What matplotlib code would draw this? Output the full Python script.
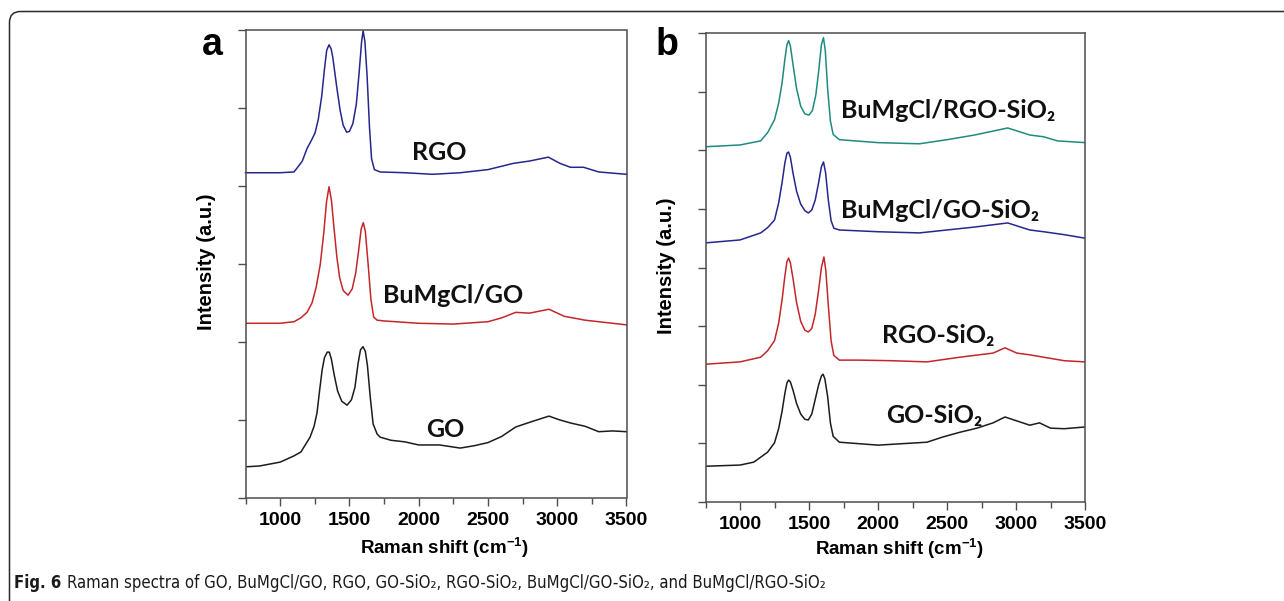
import matplotlib.pyplot as plt
from matplotlib.patches import FancyBboxPatch
from matplotlib.ticker import MultipleLocator, NullFormatter

W, H = 1284, 601

# ---- panel a (intensity in tick units, 0..6) ----
GO_X = [750, 850, 1000, 1100, 1150, 1216, 1245, 1266, 1285, 1303, 1320, 1340, 1355, 1370, 1390,
        1415, 1445, 1483, 1515, 1540, 1563, 1580, 1598, 1615, 1630, 1650, 1671, 1700, 1722, 1800,
        1900, 2000, 2150, 2300, 2400, 2500, 2600, 2700, 2800, 2940, 3020, 3100, 3200, 3300, 3400,
        3500]
GO_Y = [0.40, 0.41, 0.46, 0.54, 0.59, 0.78, 0.92, 1.09, 1.38, 1.64, 1.80, 1.87, 1.87, 1.78, 1.58,
        1.37, 1.24, 1.19, 1.26, 1.42, 1.73, 1.90, 1.94, 1.88, 1.70, 1.30, 0.95, 0.82, 0.78, 0.74,
        0.72, 0.68, 0.68, 0.64, 0.67, 0.71, 0.79, 0.91, 0.97, 1.05, 1.00, 0.96, 0.92, 0.85, 0.86,
        0.85]

BUGO_X = [750, 1000, 1100, 1150, 1194, 1230, 1260, 1290, 1315, 1335, 1353, 1370, 1390, 1410, 1430,
          1455, 1490, 1520, 1545, 1565, 1585, 1600, 1615, 1635, 1655, 1675, 1700, 1750, 2000, 2250,
          2500, 2600, 2700, 2800, 2940, 3050, 3200, 3350, 3500]
BUGO_Y = [2.24, 2.24, 2.26, 2.31, 2.38, 2.50, 2.70, 3.00, 3.40, 3.80, 3.99, 3.82, 3.44, 3.08, 2.82,
          2.66, 2.60, 2.68, 2.88, 3.15, 3.45, 3.53, 3.42, 3.00, 2.55, 2.32, 2.28, 2.27, 2.24, 2.23,
          2.26, 2.31, 2.38, 2.37, 2.42, 2.33, 2.28, 2.25, 2.22]

RGO_X = [750, 900, 1000, 1100, 1122, 1160, 1194, 1230, 1252, 1275, 1300, 1320, 1336, 1353, 1368,
         1380, 1410, 1433, 1455, 1480, 1500, 1525, 1550, 1570, 1588, 1599, 1612, 1628, 1645, 1660,
         1680, 1722, 1900, 2100, 2300, 2500, 2683, 2800, 2936, 3020, 3095, 3190, 3300, 3500]
RGO_Y = [4.17, 4.17, 4.17, 4.18, 4.23, 4.32, 4.48, 4.60, 4.68, 4.85, 5.15, 5.50, 5.74, 5.81, 5.76,
         5.65, 5.25, 4.97, 4.78, 4.69, 4.70, 4.80, 5.05, 5.45, 5.85, 5.99, 5.85, 5.40, 4.75, 4.35,
         4.21, 4.18, 4.17, 4.15, 4.17, 4.21, 4.29, 4.32, 4.37, 4.29, 4.24, 4.24, 4.18, 4.15]

# ---- panel b (intensity in tick units, 0..8) ----
GOSI_X = [750, 1000, 1100, 1200, 1250, 1280, 1305, 1325, 1340, 1352, 1365, 1385, 1410, 1440, 1470,
          1495, 1520, 1545, 1570, 1590, 1602, 1615, 1635, 1655, 1675, 1720, 2000, 2355, 2471, 2594,
          2717, 2834, 2920, 3100, 3170, 3250, 3350, 3500]
GOSI_Y = [0.61, 0.63, 0.68, 0.85, 1.01, 1.25, 1.55, 1.85, 2.03, 2.08, 2.05, 1.90, 1.68, 1.50, 1.41,
          1.40, 1.50, 1.75, 2.00, 2.15, 2.18, 2.10, 1.80, 1.35, 1.12, 1.02, 0.97, 1.02, 1.11, 1.19,
          1.26, 1.35, 1.45, 1.31, 1.35, 1.26, 1.25, 1.28]

RGOSI_X = [750, 1000, 1150, 1200, 1250, 1280, 1305, 1325, 1340, 1352, 1365, 1385, 1410, 1440, 1470,
           1495, 1520, 1545, 1570, 1590, 1608, 1622, 1640, 1660, 1680, 1720, 1870, 2100, 2355, 2594,
           2834, 2920, 3006, 3100, 3200, 3350, 3500]
RGOSI_Y = [2.35, 2.39, 2.47, 2.58, 2.75, 3.05, 3.45, 3.85, 4.10, 4.16, 4.08, 3.80, 3.40, 3.08, 2.93,
           2.90, 2.96, 3.20, 3.62, 4.00, 4.18, 3.95, 3.35, 2.75, 2.50, 2.42, 2.42, 2.41, 2.39, 2.47,
           2.54, 2.63, 2.54, 2.51, 2.47, 2.41, 2.39]

BUGOSI_X = [750, 1000, 1150, 1200, 1250, 1280, 1305, 1325, 1340, 1352, 1365, 1385, 1410, 1440, 1470,
            1495, 1520, 1545, 1570, 1590, 1605, 1620, 1640, 1660, 1680, 1720, 2000, 2300, 2500, 2700,
            2940, 3100, 3200, 3350, 3500]
BUGOSI_Y = [4.42, 4.47, 4.59, 4.68, 4.81, 5.10, 5.45, 5.78, 5.95, 5.97, 5.88, 5.60, 5.30, 5.08, 4.97,
            4.93, 4.98, 5.15, 5.45, 5.72, 5.80, 5.62, 5.15, 4.80, 4.67, 4.64, 4.61, 4.59, 4.64, 4.69,
            4.76, 4.64, 4.61, 4.56, 4.50]

BURGOSI_X = [750, 1000, 1150, 1200, 1250, 1280, 1305, 1325, 1340, 1352, 1365, 1385, 1410, 1440, 1470,
             1500, 1525, 1550, 1570, 1590, 1605, 1618, 1635, 1655, 1675, 1720, 2000, 2300, 2500, 2700,
             2940, 3100, 3200, 3300, 3500]
BURGOSI_Y = [6.06, 6.09, 6.16, 6.30, 6.52, 6.80, 7.15, 7.55, 7.80, 7.87, 7.78, 7.45, 7.05, 6.75, 6.62,
             6.60, 6.68, 6.95, 7.35, 7.80, 7.92, 7.70, 7.05, 6.50, 6.27, 6.18, 6.13, 6.11, 6.18, 6.26,
             6.38, 6.26, 6.23, 6.16, 6.13]

COLORS = {"black": "#1c1c1c", "red": "#c4262b", "navy": "#26268c", "teal": "#1e8b7e"}
AXIS_GREY = "#4d4d4d"
LABEL_FONT = ["Lato", "DejaVu Sans"]

plt.rcParams["font.family"] = ["Liberation Sans", "DejaVu Sans"]
plt.rcParams["mathtext.fontset"] = "custom"
plt.rcParams["mathtext.rm"] = "Liberation Sans:bold"
plt.rcParams["mathtext.bf"] = "Liberation Sans:bold"


def px_rect(left, top, right, bottom):
    return [left / W, 1 - bottom / H, (right - left) / W, (bottom - top) / H]


def style_ax(ax, n_y):
    ax.set_xlim(750, 3500)
    ax.set_ylim(0, n_y)
    ax.xaxis.set_major_locator(MultipleLocator(500))
    ax.xaxis.set_minor_locator(MultipleLocator(250))
    ax.yaxis.set_major_locator(MultipleLocator(1))
    ax.yaxis.set_major_formatter(NullFormatter())
    ax.tick_params(axis="x", which="major", direction="out", length=6, width=1.0,
                   color=AXIS_GREY, pad=4, labelsize=14)
    ax.tick_params(axis="x", which="minor", direction="out", length=4, width=1.0, color=AXIS_GREY)
    ax.tick_params(axis="y", direction="out", length=6, width=1.0, color=AXIS_GREY)
    for lab in ax.get_xticklabels():
        lab.set_fontweight("bold")
    for s in ax.spines.values():
        s.set_color(AXIS_GREY)
        s.set_linewidth(1.1)


fig = plt.figure(figsize=(W / 100, H / 100), dpi=100)

ax_a = fig.add_axes(px_rect(245.5, 30, 626.5, 498))
ax_a.plot(GO_X, GO_Y, color=COLORS["black"], lw=1.1)
ax_a.plot(BUGO_X, BUGO_Y, color=COLORS["red"], lw=1.1)
ax_a.plot(RGO_X, RGO_Y, color=COLORS["navy"], lw=1.1, clip_on=False)
style_ax(ax_a, 6)

ax_b = fig.add_axes(px_rect(705.5, 33, 1085, 502))
ax_b.plot(GOSI_X, GOSI_Y, color=COLORS["black"], lw=1.1)
ax_b.plot(RGOSI_X, RGOSI_Y, color=COLORS["red"], lw=1.1)
ax_b.plot(BUGOSI_X, BUGOSI_Y, color=COLORS["navy"], lw=1.1)
ax_b.plot(BURGOSI_X, BURGOSI_Y, color=COLORS["teal"], lw=1.1)
style_ax(ax_b, 8)

# overlay in pixel coordinates for frame and free text
bg = fig.add_axes([0, 0, 1, 1])
bg.set_zorder(5)
bg.set_xlim(0, W)
bg.set_ylim(H, 0)
bg.axis("off")
bg.add_patch(FancyBboxPatch((9.5, 11.5), W + 40, H + 40, boxstyle="round,pad=0,rounding_size=11",
                            fill=False, edgecolor="#2b2b2b", linewidth=1.1))

# series labels (pixel positions, baseline)
for x, y, s in [(439, 160, "RGO"), (453, 303, "BuMgCl/GO"), (445, 437, "GO"),
                (948, 118, "BuMgCl/RGO-SiO₂"), (940, 218, "BuMgCl/GO-SiO₂"),
                (938, 343, "RGO-SiO₂"), (934, 423, "GO-SiO₂")]:
    bg.text(x, y, s, ha="center", va="baseline", fontsize=18, fontweight="bold",
            family=LABEL_FONT, color="#111111")

# panel letters
bg.text(202, 55, "a", fontsize=27, fontweight="bold", va="baseline", ha="left")
bg.text(656, 55, "b", fontsize=27, fontweight="bold", va="baseline", ha="left")

# axis titles
for x, y in [(444, 548), (899, 549)]:
    bg.text(x, y, r"Raman shift (cm$^{\mathbf{-1}}$)", ha="center", va="center",
            fontsize=13.5, fontweight="bold")
for x, y in [(207, 262), (666, 266)]:
    bg.text(x, y, "Intensity (a.u.)", ha="center", va="center", rotation=90,
            fontsize=14.5, fontweight="bold")

# caption
cap_font = ["DejaVu Sans"]
t1 = bg.text(14, 592, "Fig. 6", fontsize=12, fontweight="bold", family=cap_font,
             fontstretch="condensed", va="bottom", ha="left", color="#1a1a1a")
bg.annotate("Raman spectra of GO, BuMgCl/GO, RGO, GO-SiO₂, RGO-SiO₂, BuMgCl/GO-SiO₂, "
            "and BuMgCl/RGO-SiO₂",
            xy=(1, 0), xycoords=t1, xytext=(4, 0), textcoords="offset points",
            fontsize=12, family=cap_font, fontstretch="condensed",
            va="bottom", ha="left", color="#1a1a1a")

fig.savefig("out.png", dpi=100)
plt.close(fig)
